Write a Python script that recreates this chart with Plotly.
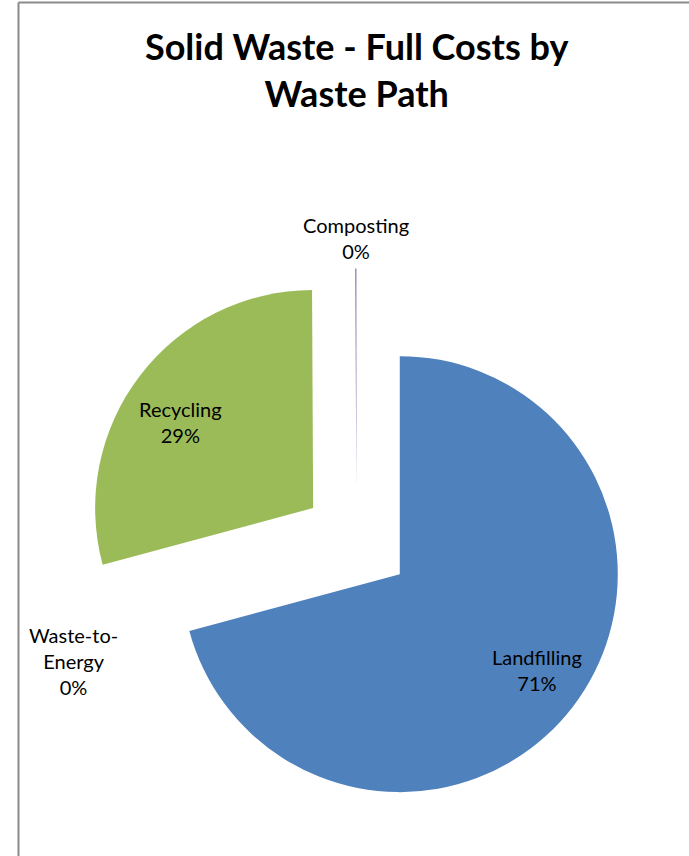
import math
import plotly.graph_objects as go

W, H = 689, 856

categories = ["Landfilling", "Waste-to-Energy", "Recycling", "Composting"]
values = [70.8, 0.0, 29.12, 0.08]
colors = ["#4F81BD", "#C0504D", "#9BBB59", "#8064A2"]
label_lines = ["Landfilling", "Waste-to-<br>Energy", "Recycling", "Composting"]
title_text = "Solid Waste - Full Costs by<br>Waste Path"

# pie geometry (pixels) -> domain fractions
cx, cy, r, pull = 356.5, 541.0, 218.0, 0.25
half = r * (1 + pull)
dom_x = [(cx - half) / W, (cx + half) / W]
dom_y = [1 - (cy + half) / H, 1 - (cy - half) / H]

fig = go.Figure(go.Pie(
    labels=categories,
    values=values,
    sort=False,
    direction="clockwise",
    rotation=0,
    pull=[pull] * len(values),
    marker=dict(colors=colors, line=dict(width=0)),
    textinfo="none",
    showlegend=False,
    automargin=False,
    domain=dict(x=dom_x, y=dom_y),
    hoverinfo="label+percent",
))

# data labels placed like Excel's "best fit": radial factor k and angle nudge (deg)
label_style = [(0.767, -2.4), (1.163, -9.5), (0.725, -4.5), (1.14, 0.0)]
total = sum(values)
cum = 0.0
annotations = []
for cat, v, txt, (k, dth) in zip(categories, values, label_lines, label_style):
    mid = (cum + v / 2) / total * 360.0
    cum += v
    a = math.radians(mid)
    ax_, ay_ = cx + pull * r * math.sin(a), cy - pull * r * math.cos(a)
    b = math.radians(mid + dth)
    px, py = ax_ + k * r * math.sin(b), ay_ - k * r * math.cos(b)
    pct = f"{round(v / total * 100):d}%"
    annotations.append(dict(
        x=px / W, y=1 - py / H, xref="paper", yref="paper",
        xanchor="center", yanchor="middle", showarrow=False,
        text=f"{txt}<br>{pct}", align="center",
        font=dict(family="Lato", size=20, color="black"),
    ))

annotations.append(dict(
    x=356 / W, y=1 - 70 / H, xref="paper", yref="paper",
    xanchor="center", yanchor="middle", showarrow=False,
    text="<b>" + title_text + "</b>", align="center",
    font=dict(family="Lato", size=36, color="black"),
))

bx, by = 18.5 / W, 1 - 2.5 / H
fig.update_layout(
    width=W, height=H,
    autosize=False,
    showlegend=False,
    margin=dict(l=0, r=0, t=0, b=0, pad=0, autoexpand=False),
    paper_bgcolor="white",
    plot_bgcolor="white",
    annotations=annotations,
    shapes=[
        dict(type="line", xref="paper", yref="paper", x0=bx, x1=bx, y0=0, y1=by,
             line=dict(color="#8a8a8a", width=2)),
        dict(type="line", xref="paper", yref="paper", x0=bx, x1=1, y0=by, y1=by,
             line=dict(color="#8a8a8a", width=2)),
    ],
)

fig.write_html("out.html")
